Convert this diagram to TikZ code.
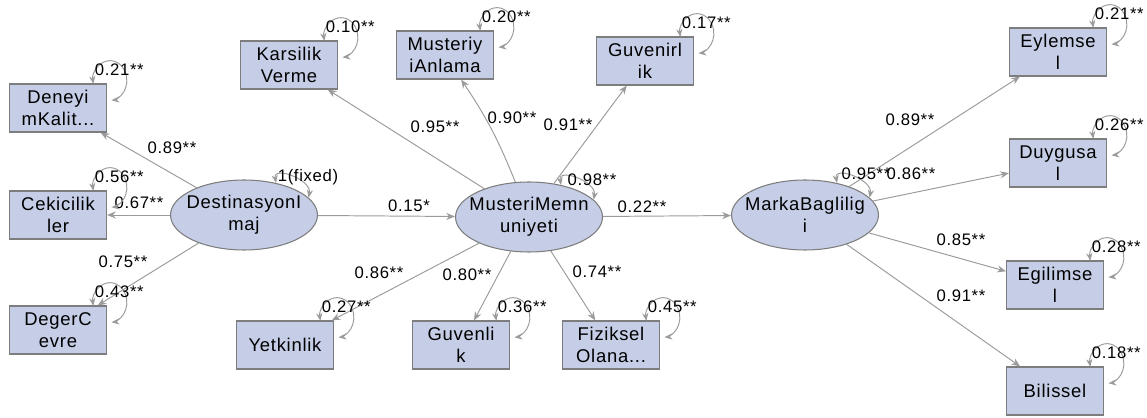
\documentclass[tikz,border=0pt]{standalone}
\usepackage{fontspec}
\setmainfont{Liberation Sans}[LetterSpace=4]
\usetikzlibrary{positioning,arrows.meta,shapes.geometric}
\definecolor{indcol}{RGB}{197,206,230}
\definecolor{edgecol}{RGB}{155,155,155}
\definecolor{bordcol}{RGB}{125,125,125}

\begin{document}
\begin{tikzpicture}[x=0.02cm, y=0.02cm,
  lat/.style={ellipse, draw=bordcol, fill=indcol, line width=0.6pt,
              minimum width=2.94cm, minimum height=1.4cm, inner xsep=-6pt, inner ysep=0pt,
              align=center, font=\fontsize{10.5}{12.5}\selectfont},
  ind/.style={rectangle, draw=bordcol, fill=indcol, line width=0.6pt,
              minimum width=1.94cm, minimum height=0.96cm, inner sep=1pt,
              align=center, font=\fontsize{10.5}{12.5}\selectfont},
  ea/.style={-{Stealth[length=5pt,width=4pt]}, edgecol, line width=0.55pt},
  va/.style={{Stealth[length=4.5pt,width=3.5pt]}-{Stealth[length=4.5pt,width=3.5pt]},
             edgecol, line width=0.55pt},
  lbl/.style={font=\fontsize{9.5}{10}\selectfont, inner sep=0pt}
]
\useasboundingbox (0,0) rectangle (1147,-418);

% latent variables
\node[lat] (dest) at (244,-215) {DestinasyonI\\maj};
\node[lat] (mm)   at (529,-217) {MusteriMemn\\uniyeti};
\node[lat] (mb)   at (805,-215) {MarkaBaglilig\\i};

% indicators
\node[ind] (dk)  at (58,-108)  {Deneyi\\mKalit...};
\node[ind] (cek) at (58,-215)  {Cekicilik\\ler};
\node[ind] (dc)  at (58,-330)  {DegerC\\evre};
\node[ind] (kv)  at (289,-65)  {Karsilik\\Verme};
\node[ind] (ma)  at (445,-55)  {Musteriy\\iAnlama};
\node[ind] (gr)  at (645,-61)  {Guvenirl\\ik};
\node[ind] (yt)  at (285,-345) {Yetkinlik};
\node[ind] (gv)  at (461,-345) {Guvenli\\k};
\node[ind] (fz)  at (611,-345) {Fiziksel\\Olana...};
\node[ind] (ey)  at (1058,-52) {Eylemse\\l};
\node[ind] (du)  at (1058,-163) {Duygusa\\l};
\node[ind] (eg)  at (1055,-285) {Egilimse\\l};
\node[ind] (bi)  at (1055,-391) {Bilissel};

% loadings and paths
\foreach \n in {dk,cek,dc} \draw[ea] (dest)--(\n);
\foreach \n in {kv,gr,yt,gv,fz} \draw[ea] (mm)--(\n);
\draw[ea] (mm) to[bend right=6] (ma);
\foreach \n in {ey,du,eg,bi} \draw[ea] (mb)--(\n);
\draw[ea] (dest)--(mm);
\draw[ea] (mm)--(mb);

\node[lbl] (ldk)  at (172,-148) {0.89**};
\node[lbl] (lcek) at (139,-203) {0.67**};
\node[lbl] (ldc)  at (123,-262) {0.75**};
\node[lbl] (lkv)  at (435,-127) {0.95**};
\node[lbl] (lma)  at (512,-118) {0.90**};
\node[lbl] (lgr)  at (568,-125) {0.91**};
\node[lbl] (lyt)  at (379,-273) {0.86**};
\node[lbl] (lgv)  at (467,-275) {0.80**};
\node[lbl] (lfz)  at (597,-272) {0.74**};
\node[lbl] (ley)  at (910,-120) {0.89**};
\node[lbl] (ldu)  at (911,-174) {0.86**};
\node[lbl] (leg)  at (961,-240) {0.85**};
\node[lbl] (lbi)  at (961,-296) {0.91**};
\node[lbl] (ldm)  at (409,-206) {0.15*};
\node[lbl] (lmb)  at (642,-207) {0.22**};

% variances
\foreach \n/\v in {dk/0.21,cek/0.56,dc/0.43,kv/0.10,ma/0.20,gr/0.17,yt/0.27,
                   gv/0.36,fz/0.45,ey/0.21,du/0.26,eg/0.28,bi/0.18}{
  \draw[va] ([shift={(1.7pt,1.7pt)}]\n.north east) ++(190:9.6pt and 11.3pt)
        arc[start angle=190, end angle=-85, x radius=9.6pt, y radius=11.3pt];
  \node[lbl] (v\n) at ([xshift=7pt,yshift=8pt]\n.north east) {\v**};
}
\foreach \n in {dest,mm,mb}
  \draw[va] (\n.45) to[out=100,in=80,looseness=1.3] (\n.15);
\node[lbl] (vdest) at (308,-177) {1(fixed)};
\node[lbl] (vmm)   at (592,-180) {0.98**};
\node[lbl] (vmb)   at (866,-174) {0.95**};

\end{tikzpicture}
\end{document}
